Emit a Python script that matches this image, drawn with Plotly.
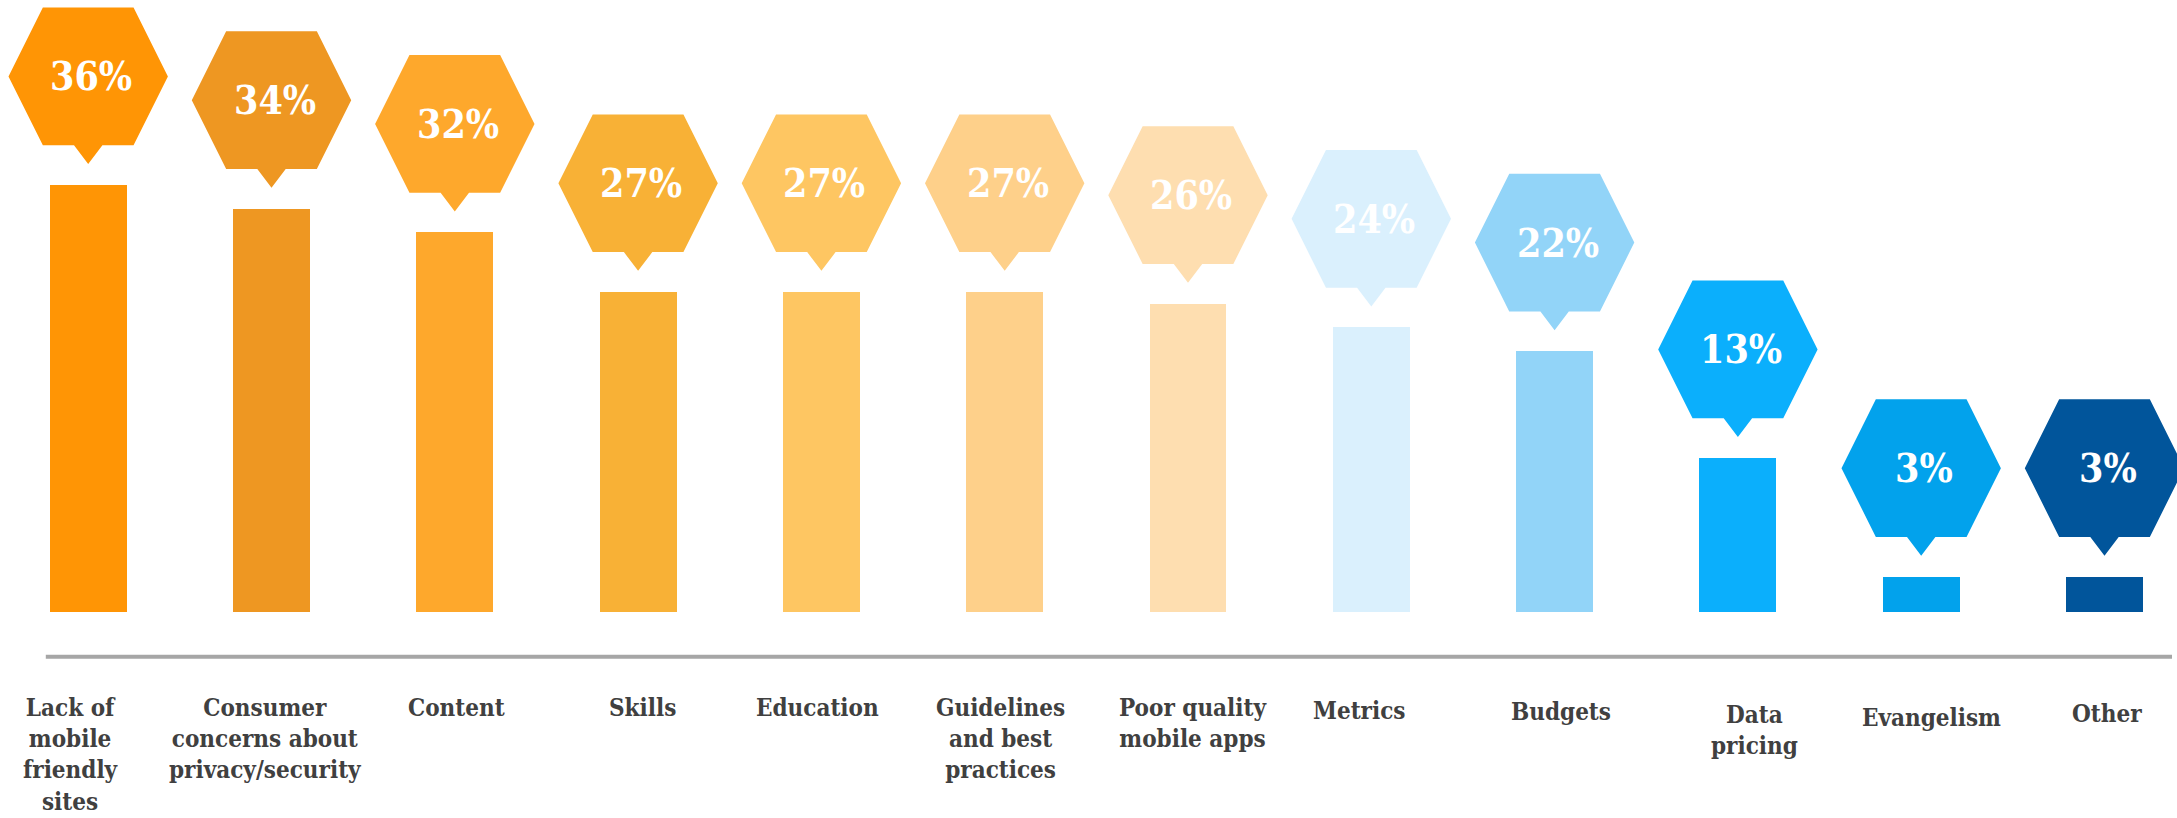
import plotly.graph_objects as go

# Survey: barriers to mobile marketing (% of respondents)
categories = [
    "Lack of<br>mobile<br>friendly<br>sites",
    "Consumer<br>concerns about<br>privacy/security",
    "Content",
    "Skills",
    "Education",
    "Guidelines<br>and best<br>practices",
    "Poor quality<br>mobile apps",
    "Metrics",
    "Budgets",
    "Data<br>pricing",
    "Evangelism",
    "Other",
]
values = [36, 34, 32, 27, 27, 27, 26, 24, 22, 13, 3, 3]
value_labels = ["36%", "34%", "32%", "27%", "27%", "27%", "26%", "24%", "22%", "13%", "3%", "3%"]

colors = [
    "#FF9505", "#EE9722", "#FEA82C", "#F8B136", "#FEC662", "#FED08A",
    "#FEDEB0", "#DAF0FD", "#92D4F8", "#0BAFFC", "#02A2EC", "#01559B",
]

# small per-label nudges (px) for the category captions
label_dx = [-17, -6, 2, 4, -4, -4, 5, -12, 6, 17, 10, 2]
label_dy = [0, 0, 0, 0, 0, 0, 0, -3, -4, -7, -10, -6]

W, H = 2177, 818
X0_PX, PITCH = 88.2, 183.3          # first bar centre and bar spacing, px
BASE_PX, PX_PER_UNIT = 612.3, 11.87  # bar baseline and px per percentage point

x_range = [-X0_PX / PITCH, (W - X0_PX) / PITCH]
y_range = [(BASE_PX - H) / PX_PER_UNIT, BASE_PX / PX_PER_UNIT]

# hexagon call-out geometry (px, upward positive, relative to bar top centre)
GAP, PTR_H, PTR_W = 21.0, 18.7, 28.4
HEX_W, HEX_H, HEX_TOP_W = 159.4, 137.7, 90.7


def callout_path():
    b = GAP + PTR_H
    m = b + HEX_H / 2
    t = b + HEX_H
    hw, tw, pw = HEX_W / 2, HEX_TOP_W / 2, PTR_W / 2
    pts = [(-tw, b), (-pw, b), (0, GAP), (pw, b), (tw, b),
           (hw, m), (tw, t), (-tw, t), (-hw, m)]
    return "M " + " L ".join(f"{x:.2f},{y:.2f}" for x, y in pts) + " Z"


xs = list(range(len(categories)))

fig = go.Figure(
    go.Bar(
        x=xs,
        y=values,
        width=0.42,
        marker=dict(color=colors, line=dict(width=0)),
        hoverinfo="skip",
    )
)

path = callout_path()
shapes = []
annotations = []
for i, (v, c, lab) in enumerate(zip(values, colors, value_labels)):
    shapes.append(dict(
        type="path", xref="x", yref="y",
        xsizemode="pixel", ysizemode="pixel",
        xanchor=i, yanchor=v, path=path,
        fillcolor=c, line=dict(width=0), layer="above",
    ))
    annotations.append(dict(
        x=i, y=v, xref="x", yref="y", text=lab, showarrow=False,
        xshift=3, yshift=GAP + PTR_H + HEX_H / 2,
        font=dict(family="DejaVu Serif Condensed, DejaVu Serif", size=39,
                  color="#FFFFFF", weight="bold"),
        xanchor="center", yanchor="middle",
    ))

# category captions under the baseline
for i, cat in enumerate(categories):
    annotations.append(dict(
        x=i, y=1 - 691 / H, xref="x", yref="paper", text=cat, showarrow=False,
        xshift=label_dx[i], yshift=label_dy[i],
        font=dict(family="DejaVu Serif Condensed, DejaVu Serif", size=24,
                  color="#404040", weight="bold"),
        xanchor="center", yanchor="top", align="center",
    ))

# grey baseline
shapes.append(dict(
    type="line", xref="paper", yref="paper",
    x0=45.8 / W, x1=2172 / W, y0=1 - 656.8 / H, y1=1 - 656.8 / H,
    line=dict(color="#A6A6A6", width=4), layer="below",
))

fig.update_layout(
    width=W, height=H,
    margin=dict(l=0, r=0, t=0, b=0),
    paper_bgcolor="#FFFFFF", plot_bgcolor="#FFFFFF",
    showlegend=False,
    xaxis=dict(range=x_range, visible=False, fixedrange=True),
    yaxis=dict(range=y_range, visible=False, fixedrange=True),
    shapes=shapes,
    annotations=annotations,
    bargap=0,
)

fig.write_html("out.html", config={"displayModeBar": False})
